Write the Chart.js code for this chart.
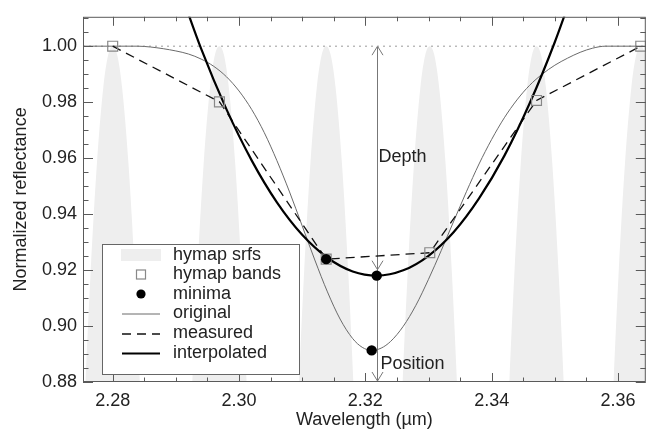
<!DOCTYPE html>
<html>
<head>
<meta charset="utf-8">
<script src="https://cdn.jsdelivr.net/npm/chart.js@4/dist/chart.umd.min.js"></script>
<style>
html,body{margin:0;padding:0;background:#fff;}
#wrap{width:654px;height:431px;}
</style>
</head>
<body>
<div id="wrap"><canvas id="c" width="654" height="431"></canvas></div>
<script>
// ---------------- data ----------------
const bandWl   = [2.2800, 2.2969, 2.3138, 2.3302, 2.3471, 2.3636];
const bandRefl = [1.000, 0.9801, 0.9239, 0.9262, 0.9806, 1.000];

// spectral response shape (offset from band centre, relative response)
const srfOffsets = [-0.0065, -0.0055, -0.0045, -0.0035, -0.0025, -0.0015, -0.0007, 0, 0.0007, 0.0015, 0.0025, 0.0035, 0.0045, 0.0055, 0.0065];
const srfProfile = [0.747, 0.811, 0.869, 0.919, 0.958, 0.985, 0.997, 1.000, 0.997, 0.985, 0.958, 0.919, 0.869, 0.811, 0.747];

const origWl   = [2.2753, 2.2820, 2.2840, 2.2860, 2.2880, 2.2900, 2.2920, 2.2940, 2.2960, 2.2980, 2.3000, 2.3020, 2.3040, 2.3060, 2.3080, 2.3100, 2.3120, 2.3140, 2.3160, 2.3180, 2.3195, 2.3210, 2.3225, 2.3240, 2.3260, 2.3280, 2.3300, 2.3320, 2.3340, 2.3360, 2.3380, 2.3400, 2.3420, 2.3440, 2.3460, 2.3480, 2.3500, 2.3520, 2.3540, 2.3560, 2.3580, 2.3644];
const origRefl = [1.000, 1.000, 1.000, 0.9997, 0.9991, 0.9983, 0.9972, 0.9954, 0.9928, 0.9891, 0.9840, 0.9774, 0.9691, 0.9591, 0.9479, 0.9358, 0.9236, 0.9122, 0.9025, 0.8955, 0.8924, 0.8913, 0.8921, 0.8945, 0.8999, 0.9074, 0.9167, 0.9269, 0.9375, 0.9480, 0.9579, 0.9667, 0.9744, 0.9808, 0.9860, 0.9900, 0.9932, 0.9957, 0.9978, 0.9993, 1.000, 1.000];

const interpWl   = [2.2900, 2.2940, 2.2980, 2.3020, 2.3060, 2.3100, 2.3140, 2.3180, 2.3218, 2.3260, 2.3300, 2.3340, 2.3380, 2.3420, 2.3460, 2.3500, 2.3540];
const interpRefl = [1.0242, 0.9991, 0.9775, 0.9592, 0.9442, 0.9326, 0.9244, 0.9195, 0.9180, 0.9199, 0.9251, 0.9336, 0.9456, 0.9608, 0.9795, 1.0015, 1.0269];

const minimaWl   = [2.3138, 2.3218, 2.3210];
const minimaRefl = [0.9239, 0.9180, 0.8913];

const continuumWl   = [2.2753, 2.3644];
const continuumRefl = [1.000, 1.000];

const xTickValues = [2.28, 2.30, 2.32, 2.34, 2.36];
const yTickValues = [0.88, 0.90, 0.92, 0.94, 0.96, 0.98, 1.00];
const xMinorStep = 0.005, yMinorStep = 0.005;
const xRange = [2.2753, 2.3644];
const yRange = [0.88, 1.0105];

const legendLabels = ['hymap srfs', 'hymap bands', 'minima', 'original', 'measured', 'interpolated'];
const depthLabel = 'Depth', positionLabel = 'Position';
const depthLabelY = 0.9604, positionLabelY = 0.8864;

// ---------------- build chart ----------------
const FONT = "'Liberation Sans', Arial, Helvetica, sans-serif";
Chart.defaults.font.family = FONT;
Chart.defaults.font.size = 18;
Chart.defaults.color = '#222';

const pts = (xs, ys) => xs.map((x, i) => ({x: x, y: ys[i]}));

const datasets = [];
bandWl.forEach((c, k) => {
  datasets.push({
    label: k === 0 ? 'hymap srfs' : '_srf' + k,
    data: srfOffsets.map((o, i) => ({x: c + o, y: srfProfile[i]})),
    showLine: true, fill: 'start', backgroundColor: '#eeeeee', borderWidth: 0,
    borderColor: 'rgba(0,0,0,0)', pointRadius: 0, cubicInterpolationMode: 'monotone', order: 20
  });
});
datasets.push({label: '_continuum', data: pts(continuumWl, continuumRefl), showLine: true,
  borderColor: '#999', borderWidth: 1, borderDash: [2, 4], pointRadius: 0, order: 15});
datasets.push({label: 'original', data: pts(origWl, origRefl), showLine: true,
  borderColor: '#6a6a6a', borderWidth: 1, pointRadius: 0, cubicInterpolationMode: 'monotone', order: 12});
datasets.push({label: 'measured', data: pts(bandWl, bandRefl), showLine: true,
  borderColor: '#111', borderWidth: 1.3, borderDash: [9, 6], pointRadius: 0, order: 11});
datasets.push({label: 'interpolated', data: pts(interpWl, interpRefl), showLine: true,
  borderColor: '#000', borderWidth: 2.2, pointRadius: 0, cubicInterpolationMode: 'monotone', order: 10});
datasets.push({label: 'hymap bands', data: pts(bandWl, bandRefl), showLine: false,
  pointStyle: 'rect', pointRadius: 7, borderColor: '#888', borderWidth: 1.2,
  backgroundColor: 'rgba(0,0,0,0)', order: 6});
datasets.push({label: 'minima', data: pts(minimaWl, minimaRefl), showLine: false,
  pointStyle: 'circle', pointRadius: 5.2, borderColor: '#000', backgroundColor: '#000', borderWidth: 0, order: 5});

function arrowHead(ctx, x, y, dir) {
  ctx.beginPath();
  ctx.moveTo(x - 5.5, y - dir * 9);
  ctx.lineTo(x, y);
  ctx.lineTo(x + 5.5, y - dir * 9);
  ctx.stroke();
}

const annotations = {
  id: 'annotations',
  beforeDatasetsDraw(chart) {
    const {ctx, chartArea: a, scales: {x, y}} = chart;
    const px = Math.round(x.getPixelForValue(minimaWl[1])) + 0.5;
    const yTop = y.getPixelForValue(1.0);
    const yMin = y.getPixelForValue(minimaRefl[1]);
    ctx.save();
    ctx.strokeStyle = '#777';
    ctx.lineWidth = 1;
    ctx.beginPath();
    ctx.moveTo(px, yTop);
    ctx.lineTo(px, a.bottom - 1);
    ctx.stroke();
    arrowHead(ctx, px, yTop, -1);
    arrowHead(ctx, px, yMin - 6, 1);
    arrowHead(ctx, px, a.bottom - 1, 1);
    ctx.restore();
  },
  afterDatasetsDraw(chart) {
    const {ctx, scales: {x, y}} = chart;
    const px = Math.round(x.getPixelForValue(minimaWl[1])) + 0.5;
    ctx.save();
    ctx.fillStyle = '#222';
    ctx.font = '18px ' + FONT;
    ctx.textAlign = 'left';
    ctx.textBaseline = 'middle';
    ctx.fillText(depthLabel, px + 1, y.getPixelForValue(depthLabelY));
    ctx.fillText(positionLabel, px + 3, y.getPixelForValue(positionLabelY));
    ctx.restore();
  }
};

function tickSets(values, step, range) {
  const minor = [];
  const k0 = Math.ceil(range[0] / step - 1e-6), k1 = Math.floor(range[1] / step + 1e-6);
  for (let k = k0; k <= k1; k++) {
    const v = k * step;
    if (!values.some(m => Math.abs(m - v) < step / 10)) minor.push(v);
  }
  return minor;
}

const frame = {
  id: 'frame',
  afterDatasetsDraw(chart) {
    const {ctx, chartArea: a, scales: {x, y}} = chart;
    ctx.save();
    ctx.strokeStyle = '#5a5a5a';
    ctx.lineWidth = 1;
    ctx.beginPath();
    const MAJ = 9, MIN = 4.5;
    const xm = tickSets(xTickValues, xMinorStep, xRange);
    const ym = tickSets(yTickValues, yMinorStep, yRange);
    const xt = (v, len) => {
      const p = Math.round(x.getPixelForValue(v)) + 0.5;
      ctx.moveTo(p, a.bottom); ctx.lineTo(p, a.bottom - len);
      ctx.moveTo(p, a.top); ctx.lineTo(p, a.top + len);
    };
    const yt = (v, len) => {
      const p = Math.round(y.getPixelForValue(v)) + 0.5;
      ctx.moveTo(a.left, p); ctx.lineTo(a.left + len, p);
      ctx.moveTo(a.right, p); ctx.lineTo(a.right - len, p);
    };
    xTickValues.forEach(v => xt(v, MAJ));
    xm.forEach(v => xt(v, MIN));
    yTickValues.forEach(v => yt(v, MAJ + 1));
    ym.forEach(v => yt(v, MIN + 1));
    ctx.stroke();
    ctx.strokeRect(a.left + 0.5, a.top + 0.5, a.right - a.left - 1, a.bottom - a.top - 1);
    ctx.restore();
  }
};

const legendBox = {
  id: 'legendBox',
  afterDraw(chart) {
    const {ctx, chartArea: a} = chart;
    const L = a.left + 19, T = a.bottom - 138, W = 197, H = 130;
    ctx.save();
    ctx.fillStyle = '#fff';
    ctx.fillRect(L, T, W, H);
    ctx.strokeStyle = '#666';
    ctx.lineWidth = 1;
    ctx.strokeRect(L + 0.5, T + 0.5, W, H);
    const rows = [11, 30.5, 50, 69.5, 89.5, 109];
    const sx0 = L + 20, sx1 = L + 58, cx = L + 39;
    legendLabels.forEach((lab, i) => {
      const yy = T + rows[i];
      ctx.setLineDash([]);
      if (i === 0) {
        ctx.fillStyle = '#eeeeee';
        ctx.fillRect(sx0 - 1, yy - 6, 40, 12);
      } else if (i === 1) {
        ctx.strokeStyle = '#888'; ctx.lineWidth = 1.2;
        ctx.strokeRect(cx - 4.5, yy - 4.5, 9, 9);
      } else if (i === 2) {
        ctx.fillStyle = '#000';
        ctx.beginPath(); ctx.arc(cx, yy, 4.6, 0, Math.PI * 2); ctx.fill();
      } else {
        ctx.beginPath();
        if (i === 3) { ctx.strokeStyle = '#6a6a6a'; ctx.lineWidth = 1; }
        if (i === 4) { ctx.strokeStyle = '#111'; ctx.lineWidth = 1.3; ctx.setLineDash([9, 6]); }
        if (i === 5) { ctx.strokeStyle = '#000'; ctx.lineWidth = 2.2; }
        ctx.moveTo(sx0, yy + 0.5); ctx.lineTo(sx1, yy + 0.5); ctx.stroke();
        ctx.setLineDash([]);
      }
      ctx.fillStyle = '#222';
      ctx.font = '18px ' + FONT;
      ctx.textAlign = 'left';
      ctx.textBaseline = 'middle';
      ctx.fillText(lab, L + 71, yy);
    });
    ctx.restore();
  }
};

new Chart(document.getElementById('c'), {
  type: 'scatter',
  data: {datasets: datasets},
  options: {
    responsive: false,
    animation: false,
    devicePixelRatio: 1,
    events: [],
    layout: {padding: {top: 14, right: 1, left: 0, bottom: 0}},
    plugins: {legend: {display: false}, tooltip: {enabled: false}, title: {display: false}},
    scales: {
      x: {
        type: 'linear', min: xRange[0], max: xRange[1],
        afterBuildTicks: s => { s.ticks = xTickValues.map(v => ({value: v})); },
        afterFit: s => { s.height = 49; },
        grid: {display: false, drawTicks: false},
        border: {display: false},
        ticks: {padding: 8, autoSkip: false, maxRotation: 0, color: '#222', callback: v => Number(v).toFixed(2)},
        title: {display: true, text: 'Wavelength (µm)', color: '#222', padding: {top: 0, bottom: 0}}
      },
      y: {
        type: 'linear', min: yRange[0], max: yRange[1],
        afterBuildTicks: s => { s.ticks = yTickValues.map(v => ({value: v})); },
        afterFit: s => { s.width = 83; },
        grid: {display: false, drawTicks: false},
        border: {display: false},
        ticks: {padding: 6, autoSkip: false, color: '#222', callback: v => Number(v).toFixed(2)},
        title: {display: true, text: 'Normalized reflectance', color: '#222', padding: {top: 10, bottom: 0}}
      }
    }
  },
  plugins: [annotations, frame, legendBox]
});
</script>
</body>
</html>
